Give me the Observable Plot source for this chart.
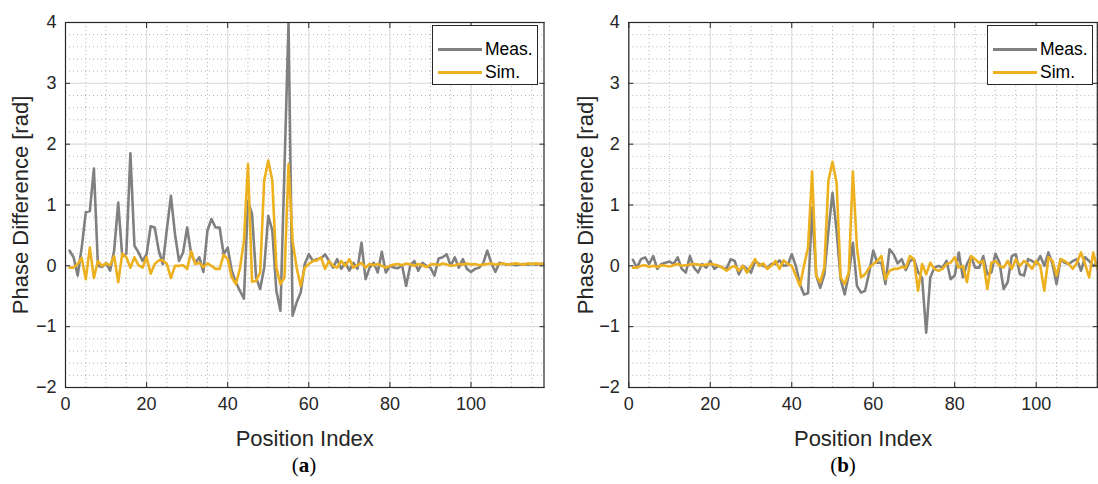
<!DOCTYPE html>
<html><head><meta charset="utf-8">
<script src="https://cdn.jsdelivr.net/npm/d3@7"></script>
<script src="https://cdn.jsdelivr.net/npm/@observablehq/plot@0.6"></script>
<style>
body{margin:0;background:#fff;font-family:"Liberation Sans",Arial,sans-serif;}
#wrap{position:relative;width:1098px;height:484px;overflow:hidden;background:#fff;}
.panel{position:absolute;top:0;}
.legend{position:absolute;top:25px;width:104px;height:58px;background:#fff;border:1px solid #262626;font-size:17.5px;color:#000;}
.legend .row{position:absolute;left:0;height:20px;}
.legend .sw{position:absolute;left:5px;width:44px;height:3px;}
.legend .tx{position:absolute;left:52px;top:-10px;line-height:20px;white-space:nowrap;}
.cap{position:absolute;top:453px;width:60px;text-align:center;font-family:"Liberation Serif",serif;font-size:21px;color:#000;}
</style>
</head><body>
<div id="wrap"></div>
<script>
// ---- data ----
const xTicks = [0, 20, 40, 60, 80, 100];
const yTicks = [-2, -1, 0, 1, 2, 3, 4];
const seriesNames = ["Meas.", "Sim."];

// panel (a): position index 1..118
const measA = [0.25,0.14,-0.16,0.3,0.88,0.9,1.6,0.0,-0.02,0.05,
  -0.08,0.25,1.04,0.15,0.2,1.85,0.33,0.22,0.08,0.19,
  0.65,0.63,0.25,0.03,0.6,1.15,0.52,0.08,0.22,0.63,
  0.19,0.05,0.14,-0.1,0.58,0.77,0.63,0.63,0.19,0.3,
  -0.08,-0.27,-0.41,-0.54,1.07,0.85,-0.19,-0.38,-0.03,0.82,
  0.58,-0.41,-0.74,1.6,4.0,-0.82,-0.6,-0.44,0.03,0.19,
  0.08,0.11,0.12,0.19,0.08,-0.03,0.11,-0.05,0.05,-0.08,
  0.05,-0.05,0.38,-0.22,-0.03,0.05,-0.11,0.23,-0.11,0.0,
  -0.03,-0.04,0.01,-0.33,0.0,0.08,-0.08,0.05,0.0,-0.03,
  -0.16,0.12,0.14,0.19,0.0,0.14,-0.03,0.11,-0.05,-0.1,
  -0.05,-0.03,0.04,0.25,0.05,-0.1,0.05,0.03,0.02,0.03,
  0.01,0.02,0.03,0.02,0.03,0.02,0.03,0.03];
const simA = [-0.03,-0.03,0.03,0.13,-0.22,0.3,-0.2,0.08,0.0,0.04,
  0.01,0.16,-0.27,0.2,0.14,-0.03,0.14,0.01,-0.03,0.14,
  -0.13,0.03,0.09,0.09,0.03,-0.2,0.0,0.0,0.01,-0.05,
  0.24,0.03,0.05,-0.02,0.04,0.0,-0.05,-0.05,0.18,0.11,
  -0.19,-0.3,-0.05,0.41,1.67,-0.26,-0.25,-0.11,1.4,1.73,
  1.4,-0.03,-0.3,-0.19,1.67,0.41,-0.03,-0.33,-0.03,0.03,
  0.08,0.09,0.14,-0.05,0.08,0.0,-0.03,0.08,0.0,0.11,
  -0.03,0.01,0.05,-0.03,0.03,0.01,0.03,0.0,-0.03,0.0,
  0.02,0.03,0.01,0.04,0.02,0.0,0.03,0.01,-0.02,0.02,
  0.03,0.01,0.04,0.02,0.0,0.01,0.03,0.02,0.04,0.02,
  0.03,0.01,0.02,0.03,0.04,0.02,0.03,0.04,0.02,0.03,
  0.04,0.03,0.02,0.04,0.03,0.04,0.03,0.04];

// panel (b): position index 1..115
const measB = [0.1,-0.03,0.11,0.14,0.03,0.16,-0.05,0.03,0.05,0.07,
  0.03,0.14,-0.05,-0.11,0.16,-0.03,-0.11,0.03,-0.03,0.08,
  -0.05,0.0,-0.03,-0.05,0.11,0.08,-0.14,0.0,-0.05,-0.11,
  0.08,0.03,0.0,-0.03,0.03,0.03,0.09,0.0,0.01,0.19,
  0.0,-0.3,-0.47,-0.45,0.96,-0.16,-0.36,-0.14,0.58,1.2,
  0.58,-0.22,-0.47,-0.14,0.38,-0.33,-0.44,-0.41,-0.11,0.25,
  0.05,0.05,-0.3,0.27,0.19,0.04,0.11,-0.07,0.08,0.11,
  -0.1,-0.2,-1.1,-0.19,-0.03,0.0,-0.03,0.08,-0.22,-0.16,
  0.22,-0.19,0.03,0.16,-0.03,-0.03,0.16,-0.14,-0.11,0.2,
  0.05,-0.38,-0.27,0.16,0.19,-0.14,-0.16,0.11,0.08,0.03,
  0.16,0.0,0.22,0.03,-0.3,0.11,0.05,0.03,0.08,0.11,
  -0.08,0.14,0.08,0.0,0.05];
const simB = [-0.03,-0.03,0.0,0.01,-0.02,0.0,-0.02,0.01,0.0,-0.01,
  0.01,0.03,0.0,0.01,0.02,0.03,0.02,0.01,0.02,0.03,
  0.02,0.0,-0.03,-0.08,-0.03,0.0,-0.08,0.0,-0.11,0.0,
  0.11,0.0,0.04,-0.05,0.0,0.08,-0.05,0.09,0.03,0.0,
  -0.16,-0.33,0.0,0.3,1.55,-0.16,-0.27,-0.03,1.4,1.71,
  1.37,-0.19,-0.3,-0.11,1.55,0.3,-0.19,-0.14,-0.03,0.03,
  0.08,0.16,-0.22,-0.08,-0.05,-0.05,-0.02,-0.03,0.16,0.11,
  -0.41,0.03,-0.14,0.05,-0.05,-0.08,-0.05,0.03,0.05,0.14,
  -0.03,0.0,-0.27,0.16,0.11,0.05,0.08,-0.38,0.05,0.08,
  0.0,-0.03,0.08,-0.05,0.11,0.0,0.08,0.03,-0.05,0.08,
  0.0,-0.41,0.14,0.08,-0.16,0.11,0.08,0.03,-0.05,0.05,
  0.22,0.03,-0.19,0.22,-0.05];

const colors = {"Meas.": "#808080", "Sim.": "#EDB120"};
const ink = "#262626";
const fmt = d => (d < 0 ? "\u2212" + Math.abs(d) : String(d));

function rows(vals) { return vals.map((v, i) => ({i: i + 1, v})); }

function panel(meas, sim, xMax, marginLeft, marginRight, ylabDx) {
  return Plot.plot({
    width: 549, height: 448,
    marginLeft, marginRight, marginTop: 22, marginBottom: 61,
    x: {domain: [0, xMax]},
    y: {domain: [-2, 4]},
    style: {fontFamily: "'Liberation Sans', Arial, sans-serif", fontSize: "18px", color: ink, background: "white", overflow: "visible"},
    marks: [
      Plot.gridX(d3.range(0, xMax + 0.01, 5), {stroke: "#b4b4b4", strokeOpacity: 1, strokeDasharray: "1,3"}),
      Plot.gridY(d3.range(-2, 4.001, 0.2), {stroke: "#b4b4b4", strokeOpacity: 1, strokeDasharray: "1,3"}),
      Plot.gridX(xTicks, {stroke: "#dcdcdc", strokeOpacity: 1}),
      Plot.gridY(yTicks, {stroke: "#dcdcdc", strokeOpacity: 1}),
      Plot.line(rows(meas), {x: "i", y: "v", stroke: colors["Meas."], strokeWidth: 2.6, clip: true}),
      Plot.line(rows(sim), {x: "i", y: "v", stroke: colors["Sim."], strokeWidth: 2.6, clip: true}),
      Plot.frame({stroke: ink, strokeWidth: 1.2}),
      Plot.axisX(xTicks, {anchor: "bottom", tickSize: -5, tickPadding: 15, tickFormat: fmt, label: null, stroke: ink, fill: ink}),
      Plot.axisX(xTicks, {anchor: "top", tickSize: -5, tickFormat: () => "", label: null, stroke: ink}),
      Plot.axisY(yTicks, {anchor: "left", tickSize: -5, tickPadding: 14, tickFormat: fmt, label: null, stroke: ink, fill: ink}),
      Plot.axisY(yTicks, {anchor: "right", tickSize: -5, tickFormat: () => "", label: null, stroke: ink}),
      Plot.text(["Position Index"], {frameAnchor: "bottom", lineAnchor: "middle", textAnchor: "middle", dy: 51, fontSize: 22, fill: ink}),
      Plot.text(["Phase Difference [rad]"], {frameAnchor: "left", lineAnchor: "middle", textAnchor: "middle", rotate: -90, dx: ylabDx, fontSize: 22, fill: ink})
    ]
  });
}

const wrap = document.getElementById("wrap");
const specs = [
  {meas: measA, sim: simA, xMax: 118, ml: 65, mr: 5.5, dx: -45, left: 0, legRight: 538, cap: "a", capX: 304},
  {meas: measB, sim: simB, xMax: 115, ml: 79.3, mr: 1.2, dx: -43, left: 549, legRight: 1093, cap: "b", capX: 843}
];
for (const s of specs) {
  const d = document.createElement("div");
  d.className = "panel";
  d.style.left = s.left + "px";
  d.appendChild(panel(s.meas, s.sim, s.xMax, s.ml, s.mr, s.dx));
  wrap.appendChild(d);

  const lg = document.createElement("div");
  lg.className = "legend";
  lg.style.left = (s.legRight - 106) + "px";
  seriesNames.forEach((name, k) => {
    const r = document.createElement("div");
    r.className = "row";
    r.style.top = (k === 0 ? 23 : 46) + "px";
    const sw = document.createElement("div");
    sw.className = "sw";
    sw.style.background = colors[name];
    sw.style.top = "-1.5px";
    const tx = document.createElement("div");
    tx.className = "tx";
    tx.textContent = name;
    r.appendChild(sw); r.appendChild(tx);
    lg.appendChild(r);
  });
  wrap.appendChild(lg);

  const c = document.createElement("div");
  c.className = "cap";
  c.style.left = (s.capX - 30) + "px";
  c.innerHTML = "(<b>" + s.cap + "</b>)";
  wrap.appendChild(c);
}
</script>
</body></html>
